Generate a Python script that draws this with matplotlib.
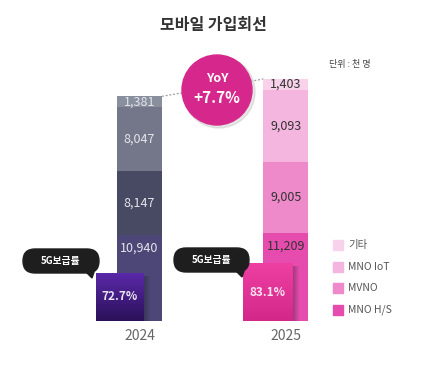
import numpy as np
import matplotlib
matplotlib.use("Agg")
import matplotlib.pyplot as plt
from matplotlib.patches import FancyBboxPatch, Circle, Rectangle, Polygon
from matplotlib.colors import LinearSegmentedColormap

plt.rcParams["font.family"] = ["Noto Sans CJK KR", "DejaVu Sans"]

YEARS    = ["2024", "2025"]
SEGMENTS = ["MNO H/S", "MVNO", "MNO IoT", "기타"]   # bottom -> top
VAL_2024 = [10940, 8147, 8047, 1381]
VAL_2025 = [11209, 9005, 9093, 1403]
FIVEG    = ["72.7%", "83.1%"]
YOY      = "+7.7%"

COL_2024 = ["#4C4776", "#474A62", "#737789", "#8A8F9D"]
COL_2025 = ["#E64CAE", "#EE89CA", "#F4B5DE", "#F8D2EA"]
TXT_2024 = "#E4E5EC"
TXT_2025 = "#333333"

W, H = 427, 367
fig = plt.figure(figsize=(W / 100, H / 100), dpi=100)
fig.patch.set_facecolor("white")

# ---- data axes: bars ----
px_per_unit = 146.5
ax = fig.add_axes([0, (H - 321) / H, 1, 300 / H])
ax.set_xlim(-139.5 / px_per_unit, (W - 139.5) / px_per_unit)
ax.set_ylim(0, 300 / 7.88 * 1000)
ax.axis("off")
bw = 45 / px_per_unit

for xi, (vals, cols, tcol) in enumerate([(VAL_2024, COL_2024, TXT_2024),
                                          (VAL_2025, COL_2025, TXT_2025)]):
    bottom = 0
    for i, (v, c) in enumerate(zip(vals, cols)):
        ax.bar(xi, v, bottom=bottom, width=bw, color=c, zorder=2)
        ypos = bottom + v / 2
        if i == 0:
            ypos = bottom + v - 1700   # label sits near the top of bottom segment
        ax.text(xi, ypos, f"{v:,}", ha="center", va="center",
                fontsize=9, color=tcol, zorder=3)
        bottom += v

tot = [sum(VAL_2024), sum(VAL_2025)]
ax.plot([0 + bw / 2, 1 - bw / 2], [tot[0], tot[1]], ls=(0, (1.5, 1.5)),
        color="#999999", lw=0.9, zorder=1)

# ---- overlay axes in pixel space for decorations ----
ov = fig.add_axes([0, 0, 1, 1])
ov.set_xlim(0, W)
ov.set_ylim(H, 0)
ov.axis("off")

ov.text(213, 25, "모바일 가입회선", ha="center", va="center",
        fontsize=11.5, fontweight="bold", color="#333333")
ov.text(350, 64, "단위 : 천 명", ha="center", va="center",
        fontsize=6.5, color="#444444")

# YoY circle
ov.add_patch(Circle((219, 92), 36, color="#cccccc", alpha=0.5, zorder=4))
ov.add_patch(Circle((217, 90), 35, color="#D6288C", zorder=5))
ov.text(217, 78, "YoY", ha="center", va="center", fontsize=9,
        fontweight="bold", color="white", zorder=6)
ov.text(217, 98, YOY, ha="center", va="center", fontsize=11,
        fontweight="bold", color="white", zorder=6)

# 5G boxes with pills
boxes = [((96, 273, 144, 321), ["#5A28A8", "#2B1159"], (23, 249, 99, 273), 92),
         ((243, 263, 293, 321), ["#EE3FA2", "#D3288A"], (174, 248, 249, 272), 242)]
for (bx0, by0, bx1, by1), gcols, (px0, py0, px1, py1), tipx in boxes:
    # soft shadow on the right of the box
    for s in range(6):
        ov.add_patch(Rectangle((bx1 + s, by0 + 3), 1, by1 - by0 - 3,
                               color="#1a1a2a", alpha=0.32 * (1 - s / 6),
                               lw=0, zorder=3))
    cmap = LinearSegmentedColormap.from_list("g", gcols)
    grad = np.linspace(0, 1, 64).reshape(-1, 1)
    ov.imshow(grad, cmap=cmap, extent=(bx0, bx1, by1, by0), aspect="auto",
              zorder=4)
    r = (py1 - py0) / 2
    ov.add_patch(FancyBboxPatch((px0, py0), px1 - px0, py1 - py0,
                                boxstyle=f"round,pad=0,rounding_size={r}",
                                color="#1E1E1E", zorder=7))
    ov.add_patch(Polygon([(tipx - 6, py1 - 1), (tipx + 2, py1 - 1), (tipx, py1 + 5)],
                         color="#1E1E1E", zorder=7))
    ov.text((px0 + px1) / 2, (py0 + py1) / 2, "5G보급률", ha="center",
            va="center", fontsize=7, fontweight="bold", color="white", zorder=8)

ov.set_xlim(0, W)
ov.set_ylim(H, 0)

ov.text(120, 297, FIVEG[0], ha="center", va="center", fontsize=8.5,
        fontweight="bold", color="#E8E4F2", zorder=6)
ov.text(268, 292, FIVEG[1], ha="center", va="center", fontsize=8.5,
        fontweight="bold", color="#FBE4F0", zorder=6)

# year labels
for xi, yr in enumerate(YEARS):
    ov.text([140, 286][xi], 336, yr, ha="center", va="center",
            fontsize=10, color="#666666")

# legend (top -> bottom)
for k, (lab, c) in enumerate(zip(SEGMENTS[::-1], COL_2025[::-1])):
    y = 245 + k * 21.5
    ov.add_patch(Rectangle((333, y - 5), 10, 10, color=c, zorder=3))
    ov.text(348, y, lab, ha="left", va="center", fontsize=7.5, color="#555555")

fig.savefig("out.png", dpi=100)
